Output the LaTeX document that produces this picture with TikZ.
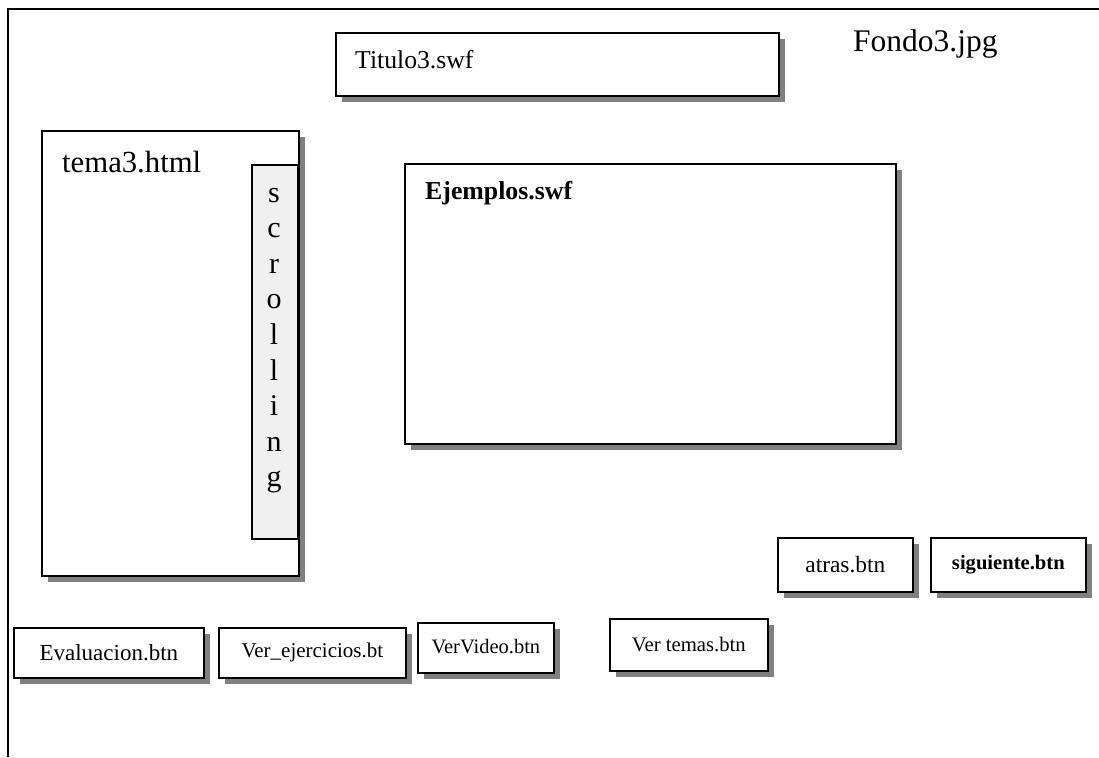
\documentclass[tikz,border=0pt]{standalone}
\usepackage{fontspec}
\setmainfont{Liberation Serif}
\usetikzlibrary{shadows}
\begin{document}
\begin{tikzpicture}[x=1pt,y=-1pt,
  panel/.style={draw, line width=1.7pt, fill=white, inner sep=0pt, anchor=north west,
    drop shadow={shadow xshift=6pt, shadow yshift=-6pt, fill=black!50, opacity=1}},
  txt/.style={inner sep=0pt, anchor=base west},
  fs/.style={font=\fontsize{#1}{#1}\selectfont},
  bfs/.style={font=\fontsize{#1}{#1}\selectfont\bfseries},
  letter/.style={inner sep=0pt, anchor=base, fs=30}]
\useasboundingbox (0,0) rectangle (1099,757);
\fill[white] (0,0) rectangle (1099,757);
% page frame (left and top edges)
\coordinate (frameBL) at (8,757);
\coordinate (frameTL) at (8,9);
\coordinate (frameTR) at (1099,9);
\draw[line width=1.9pt] (frameBL) -- (frameTL) -- (frameTR);

% title bar
\node[panel, minimum width=443pt, minimum height=63pt] (titulo) at (335,32) {};
\node[txt, fs=25.7] (titulotxt) at (355,69) {Titulo3.swf};

% background image name
\node[txt, fs=31.5] (fondo) at (853,52) {Fondo3.jpg};

% html text panel with scroll bar
\node[panel, minimum width=257pt, minimum height=445pt] (tema) at (41,130) {};
\node[txt, fs=30.7] (tematxt) at (62,172) {tema3.html};
\node[draw, line width=1.7pt, fill=black!6, inner sep=0pt, anchor=north west,
  minimum width=46pt, minimum height=374pt] (scroll) at (251,164) {};
\foreach \c [count=\i from 0] in {s,c,r,o,l,l,i,n,g}
  \node[letter] (sc\i) at (274,{202+35.6*\i}) {\c};

% examples area
\node[panel, minimum width=491pt, minimum height=280pt] (ejemplos) at (404,163) {};
\node[txt, bfs=25.8] (ejemplostxt) at (425,199) {Ejemplos.swf};

% navigation buttons
\node[panel, minimum width=135pt, minimum height=54pt, fs=23.4] (atras) at (777,537) {atras.btn};
\node[panel, minimum width=155pt, minimum height=54pt, bfs=20.6] (siguiente) at (930,537) {\raisebox{3pt}{siguiente.btn}};

% menu buttons
\node[panel, minimum width=190pt, minimum height=50pt, fs=23] (evaluacion) at (13,627) {Evaluacion.btn};
\node[panel, minimum width=187pt, minimum height=50pt, fs=21] (ejercicios) at (218,627) {Ver\_ejercicios.bt};
\node[panel, minimum width=136pt, minimum height=50pt, fs=20.5] (video) at (417,622) {\raisebox{2pt}{VerVideo.btn}};
\node[panel, minimum width=158pt, minimum height=52pt, fs=20.7] (temas) at (609,618) {\raisebox{2pt}{Ver temas.btn}};
\end{tikzpicture}
\end{document}
